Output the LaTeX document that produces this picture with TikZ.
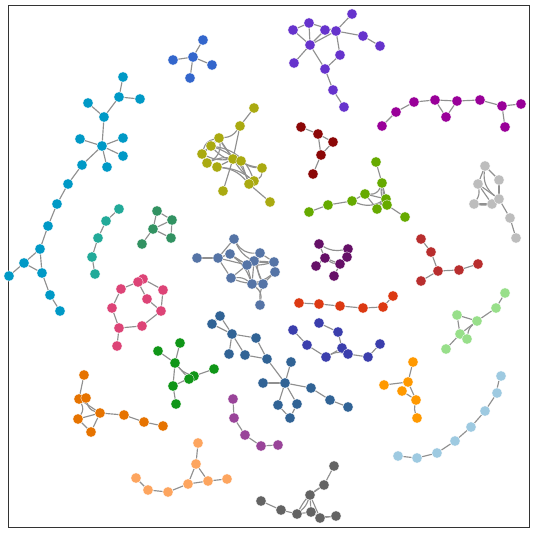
\documentclass[tikz,border=0pt]{standalone}
\usepackage{xcolor}
\usepackage{tikz}
\usetikzlibrary{backgrounds}
\definecolor{netCyan}{HTML}{0099C6}
\definecolor{netBlue}{HTML}{3366CC}
\definecolor{netViolet}{HTML}{6633CC}
\definecolor{netMagenta}{HTML}{990099}
\definecolor{netOlive}{HTML}{AAAA11}
\definecolor{netDarkRed}{HTML}{8B0707}
\definecolor{netLime}{HTML}{66AA00}
\definecolor{netGrey}{HTML}{BDBDBD}
\definecolor{netTeal}{HTML}{22AA99}
\definecolor{netSea}{HTML}{329262}
\definecolor{netPink}{HTML}{DD4477}
\definecolor{netSteel}{HTML}{5574A6}
\definecolor{netPlum}{HTML}{651067}
\definecolor{netRed}{HTML}{DC3912}
\definecolor{netBrick}{HTML}{B82E2E}
\definecolor{netMint}{HTML}{98DF8A}
\definecolor{netNavy}{HTML}{3B3EAC}
\definecolor{netDenim}{HTML}{316395}
\definecolor{netGreen}{HTML}{109618}
\definecolor{netOrange}{HTML}{E67300}
\definecolor{netPurple}{HTML}{994499}
\definecolor{netPeach}{HTML}{FDA55F}
\definecolor{netSlate}{HTML}{636363}
\definecolor{netAmber}{HTML}{FF9900}
\definecolor{netSky}{HTML}{9ECAE1}
\definecolor{netEdge}{HTML}{909090}
\tikzset{
  net/dot/.style   = {circle, fill=#1, draw=white, line width=0.3pt,
                      minimum size=10.4pt, inner sep=0pt},
  net/link/.style  = {draw=netEdge, line width=1.15pt},
  net/frame/.style = {draw=black!80, line width=1pt},
}

\begin{document}
\begin{tikzpicture}[x=1pt, y=-1pt]
  \useasboundingbox (0,0) rectangle (538,537);
  \node[inner sep=0pt, minimum width=521.5pt, minimum height=521.5pt, anchor=north west,
        net/frame] (frame) at (7.5,5.5) {};
  % cyan tree (left)
  \foreach \n/\x/\y in {1/123/77, 2/119/97, 3/140/99, 4/88/103, 5/104/117, 6/80/139,
      7/123/138, 8/102/146, 9/123/156, 10/82/165, 11/107/167, 12/68/184, 13/57/204,
      14/48/226, 15/40/249, 16/24/263, 17/42/273, 18/9/276, 19/50/295, 20/60/311}
    \node[net/dot=netCyan] (cy\n) at (\x,\y) {};
  % blue star
  \foreach \n/\x/\y in {1/193/57, 2/203/40, 3/212/65, 4/190/78, 5/173/60}
    \node[net/dot=netBlue] (bl\n) at (\x,\y) {};
  % violet
  \foreach \n/\x/\y in {1/309/23, 2/293/30, 3/325/30, 4/336/31, 5/352/14, 6/310/45,
      7/340/55, 8/294/63, 9/325/69, 10/333/90, 11/344/107, 12/363/36, 13/380/46}
    \node[net/dot=netViolet] (vi\n) at (\x,\y) {};
  % magenta chain
  \foreach \n/\x/\y in {1/382/126, 2/396/112, 3/414/102, 4/435/100, 5/446/117,
      6/457/101, 7/480/100, 8/502/106, 9/521/104, 10/505/127}
    \node[net/dot=netMagenta] (mg\n) at (\x,\y) {};
  % olive hairball
  \foreach \n/\x/\y in {1/254/108, 2/240/126, 3/219/138, 4/211/146, 5/202/154,
      6/207/163, 7/217/167, 8/233/159, 9/241/161, 10/262/168, 11/254/181,
      12/249/184, 13/223/191, 14/270/202}
    \node[net/dot=netOlive] (ol\n) at (\x,\y) {};
  % dark red
  \foreach \n/\x/\y in {1/301/127, 2/318/134, 3/333/142, 4/321/155, 5/313/174}
    \node[net/dot=netDarkRed] (dr\n) at (\x,\y) {};
  % lime
  \foreach \n/\x/\y in {1/309/212, 2/328/205, 3/352/201, 4/365/194, 5/376/162,
      6/382/183, 7/386/199, 8/387/205, 9/377/209, 10/405/217}
    \node[net/dot=netLime] (lm\n) at (\x,\y) {};
  % grey
  \foreach \n/\x/\y in {1/485/166, 2/478/184, 3/499/180, 4/474/204, 5/492/204,
      6/499/199, 7/510/218, 8/516/238}
    \node[net/dot=netGrey] (gy\n) at (\x,\y) {};
  % teal chain
  \foreach \n/\x/\y in {1/119/209, 2/106/221, 3/98/238, 4/92/257, 5/95/274}
    \node[net/dot=netTeal] (tl\n) at (\x,\y) {};
  % sea green
  \foreach \n/\x/\y in {1/157/211, 2/172/220, 3/153/229, 4/171/238, 5/142/244}
    \node[net/dot=netSea] (sg\n) at (\x,\y) {};
  % pink ring
  \foreach \n/\x/\y in {1/143/279, 2/138/282, 3/121/289, 4/163/290, 5/147/299,
      6/112/308, 7/161/311, 8/119/328, 9/142/326, 10/117/346}
    \node[net/dot=netPink] (pk\n) at (\x,\y) {};
  % steel blue hairball
  \foreach \n/\x/\y in {1/234/239, 2/197/258, 3/218/258, 4/230/254, 5/260/253,
      6/254/261, 7/247/265, 8/274/262, 9/275/272, 10/231/278, 11/252/284,
      12/263/284, 13/260/305}
    \node[net/dot=netSteel] (st\n) at (\x,\y) {};
  % plum
  \foreach \n/\x/\y in {1/319/244, 2/348/249, 3/325/258, 4/347/257, 5/340/264,
      6/316/266, 7/334/276}
    \node[net/dot=netPlum] (pl\n) at (\x,\y) {};
  % red chain
  \foreach \n/\x/\y in {1/299/303, 2/319/304, 3/340/306, 4/363/308, 5/383/307, 6/393/296}
    \node[net/dot=netRed] (rd\n) at (\x,\y) {};
  % brick
  \foreach \n/\x/\y in {1/421/239, 2/431/252, 3/438/271, 4/421/281, 5/459/270, 6/478/264}
    \node[net/dot=netBrick] (br\n) at (\x,\y) {};
  % mint
  \foreach \n/\x/\y in {1/505/293, 2/496/308, 3/477/321, 4/457/315, 5/460/334,
      6/467/339, 7/446/349}
    \node[net/dot=netMint] (mt\n) at (\x,\y) {};
  % navy
  \foreach \n/\x/\y in {1/293/330, 2/307/345, 3/319/323, 4/338/332, 5/342/348,
      6/348/354, 7/326/357, 8/368/357, 9/380/344}
    \node[net/dot=netNavy] (nv\n) at (\x,\y) {};
  % denim
  \foreach \n/\x/\y in {1/220/316, 2/212/324, 3/232/334, 4/256/338, 5/229/354,
      6/245/355, 7/267/359, 8/291/362, 9/263/383, 10/285/383, 11/311/388,
      12/330/400, 13/348/407, 14/278/405, 15/297/404, 16/290/418}
    \node[net/dot=netDenim] (dn\n) at (\x,\y) {};
  % green
  \foreach \n/\x/\y in {1/180/343, 2/158/351, 3/175/363, 4/214/369, 5/194/376,
      6/189/379, 7/173/386, 8/176/404}
    \node[net/dot=netGreen] (gr\n) at (\x,\y) {};
  % orange
  \foreach \n/\x/\y in {1/84/375, 2/79/399, 3/86/398, 4/100/413, 5/78/419,
      6/91/432, 7/124/415, 8/144/422, 9/163/426}
    \node[net/dot=netOrange] (or\n) at (\x,\y) {};
  % purple chain
  \foreach \n/\x/\y in {1/233/399, 2/234/418, 3/245/435, 4/261/446, 5/278/445}
    \node[net/dot=netPurple] (pu\n) at (\x,\y) {};
  % peach
  \foreach \n/\x/\y in {1/198/443, 2/196/464, 3/188/484, 4/208/481, 5/227/479,
      6/136/478, 7/148/490, 8/168/492}
    \node[net/dot=netPeach] (pc\n) at (\x,\y) {};
  % slate
  \foreach \n/\x/\y in {1/334/466, 2/324/485, 3/310/495, 4/261/501, 5/281/510,
      6/297/514, 7/311/512, 8/320/518, 9/336/516}
    \node[net/dot=netSlate] (sl\n) at (\x,\y) {};
  % amber
  \foreach \n/\x/\y in {1/413/362, 2/384/385, 3/408/382, 4/402/391, 5/416/400, 6/417/418}
    \node[net/dot=netAmber] (am\n) at (\x,\y) {};
  % sky chain
  \foreach \n/\x/\y in {1/501/376, 2/497/393, 3/485/411, 4/471/427, 5/455/441,
      6/437/453, 7/417/458, 8/398/456}
    \node[net/dot=netSky] (sk\n) at (\x,\y) {};

  % edges
  \begin{scope}[on background layer]
    \foreach \a/\b in {1/2, 2/3, 2/5, 4/5, 5/8, 8/6, 8/7, 8/9, 8/11, 8/10, 10/12,
        12/13, 13/14, 14/15, 15/16, 15/17, 16/17, 16/18, 17/19, 19/20}
      \draw[net/link] (cy\a) -- (cy\b);
    \foreach \a/\b in {1/2, 1/3, 1/4, 1/5}
      \draw[net/link] (bl\a) -- (bl\b);
    \foreach \a/\b in {1/2, 1/6, 1/4, 2/6, 3/6, 6/4, 4/5, 4/12, 12/13, 4/7, 7/9,
        6/8, 6/9, 9/10, 10/11}
      \draw[net/link] (vi\a) -- (vi\b);
    \foreach \a/\b in {1/2, 2/3, 3/4, 4/6, 6/7, 7/8, 8/9, 4/5, 5/6, 8/10}
      \draw[net/link] (mg\a) -- (mg\b);
    \foreach \a/\b/\c in {1/2/0, 2/3/25, 2/8/0, 3/4/0, 4/5/0, 5/6/0, 6/7/0, 3/8/0,
        4/9/-20, 5/8/-15, 7/8/0, 6/9/20, 8/9/0, 9/10/-15, 8/11/-10, 9/12/0,
        10/11/30, 3/10/-25, 4/12/25, 8/13/0, 12/14/0, 5/3/30, 7/11/15, 6/4/40,
        7/12/20, 3/6/35, 4/11/30}
      \draw[net/link] (ol\a) to[bend left=\c] (ol\b);
    \foreach \a/\b in {1/2, 2/3, 2/4, 3/4, 4/5}
      \draw[net/link] (dr\a) -- (dr\b);
    \foreach \a/\b/\c in {1/2/0, 2/3/0, 3/4/0, 5/6/0, 4/6/-35, 4/7/0, 4/9/0, 6/7/0,
        6/8/-20, 7/9/0, 8/10/0, 6/9/20, 3/7/-25}
      \draw[net/link] (lm\a) to[bend left=\c] (lm\b);
    \foreach \a/\b/\c in {1/2/0, 1/3/0, 2/4/20, 2/6/0, 3/6/0, 4/5/0, 5/6/0, 2/5/0,
        6/7/0, 7/8/0, 1/6/-30, 4/6/-20}
      \draw[net/link] (gy\a) to[bend left=\c] (gy\b);
    \foreach \a/\b in {1/2, 2/3, 3/4, 4/5}
      \draw[net/link] (tl\a) -- (tl\b);
    \foreach \a/\b in {1/2, 1/3, 3/2, 3/4, 2/4, 3/5}
      \draw[net/link] (sg\a) -- (sg\b);
    \foreach \a/\b in {1/2, 2/3, 1/4, 2/5, 3/6, 4/7, 5/7, 6/8, 8/9, 9/7, 8/10}
      \draw[net/link] (pk\a) -- (pk\b);
    \foreach \a/\b/\c in {2/3/0, 3/1/0, 3/4/0, 3/10/0, 1/5/-30, 4/7/0, 4/8/-25,
        7/6/0, 7/5/0, 6/8/0, 5/8/0, 8/9/0, 10/7/0, 10/11/20, 7/11/0, 6/12/0,
        11/12/0, 11/13/30, 12/13/-10, 3/7/0, 5/12/-20, 9/12/0, 6/11/0, 10/9/-30,
        1/8/-35, 4/11/15}
      \draw[net/link] (st\a) to[bend left=\c] (st\b);
    \foreach \a/\b/\c in {1/3/0, 3/6/0, 3/5/0, 2/4/0, 4/5/0, 5/7/0, 3/4/-40, 1/2/-20}
      \draw[net/link] (pl\a) to[bend left=\c] (pl\b);
    \foreach \a/\b in {1/2, 2/3, 3/4, 4/5, 5/6}
      \draw[net/link] (rd\a) -- (rd\b);
    \foreach \a/\b in {1/2, 2/3, 3/4, 3/5, 5/6}
      \draw[net/link] (br\a) -- (br\b);
    \foreach \a/\b/\c in {1/2/0, 2/3/0, 3/4/0, 4/5/0, 3/5/0, 3/6/-20, 5/6/0, 5/7/0}
      \draw[net/link] (mt\a) to[bend left=\c] (mt\b);
    \foreach \a/\b/\c in {1/2/0, 2/7/0, 3/4/0, 4/5/0, 5/6/0, 7/5/0, 7/6/20, 6/8/0, 8/9/0}
      \draw[net/link] (nv\a) to[bend left=\c] (nv\b);
    \foreach \a/\b in {1/2, 1/3, 2/3, 3/4, 3/5, 3/6, 4/7, 6/7, 7/10, 8/10, 9/10,
        10/11, 11/12, 12/13, 10/14, 10/15, 14/16, 15/16}
      \draw[net/link] (dn\a) -- (dn\b);
    \foreach \a/\b/\c in {1/3/0, 2/3/0, 3/5/-15, 3/6/0, 6/5/0, 5/4/0, 3/7/0, 7/5/0, 7/8/0}
      \draw[net/link] (gr\a) to[bend left=\c] (gr\b);
    \foreach \a/\b/\c in {1/2/0, 2/3/0, 3/4/-30, 2/4/0, 2/5/30, 5/4/0, 5/6/0, 6/4/0,
        4/7/0, 7/8/0, 8/9/0}
      \draw[net/link] (or\a) to[bend left=\c] (or\b);
    \foreach \a/\b in {1/2, 2/3, 3/4, 4/5}
      \draw[net/link] (pu\a) -- (pu\b);
    \foreach \a/\b in {1/2, 2/3, 2/4, 3/4, 4/5, 6/7, 7/8, 8/3}
      \draw[net/link] (pc\a) -- (pc\b);
    \foreach \a/\b/\c in {1/2/0, 2/3/0, 4/5/0, 5/6/0, 6/7/0, 3/7/0, 2/6/-15, 3/8/0,
        7/8/0, 8/9/0, 7/9/-15, 3/6/15}
      \draw[net/link] (sl\a) to[bend left=\c] (sl\b);
    \foreach \a/\b/\c in {1/3/0, 2/3/0, 3/4/0, 3/5/0, 4/5/0, 5/6/-15}
      \draw[net/link] (am\a) to[bend left=\c] (am\b);
    \foreach \a/\b/\c in {1/2/-10, 2/3/0, 3/4/0, 4/5/0, 5/6/0, 6/7/0, 7/8/0}
      \draw[net/link] (sk\a) to[bend left=\c] (sk\b);
  \end{scope}
\end{tikzpicture}
\end{document}
